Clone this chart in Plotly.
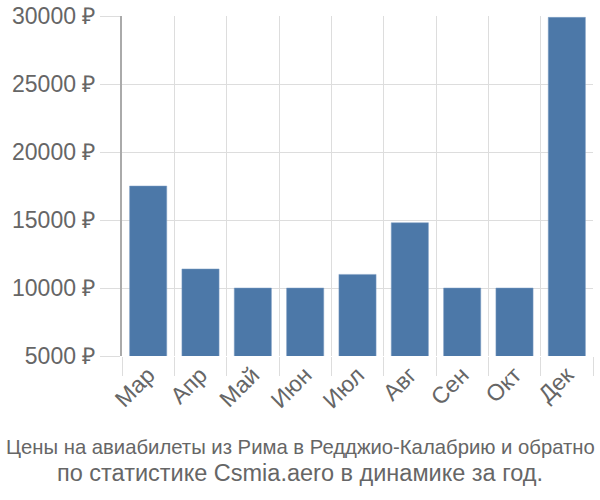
import plotly.graph_objects as go

months = ["Мар", "Апр", "Май", "Июн", "Июл", "Авг", "Сен", "Окт", "Дек"]
prices = [17500, 11400, 10000, 10000, 11000, 14800, 10000, 10000, 29900]
y_ticks = [5000, 10000, 15000, 20000, 25000, 30000]
title_line1 = "Цены на авиабилеты из Рима в Редджио-Калабрию и обратно"
title_line2 = "по статистике Csmia.aero в динамике за год."

fig = go.Figure(go.Bar(x=months, y=prices, marker=dict(color="#4c78a8", line=dict(color="#7f9fc4", width=0.5))))

fig.update_layout(
    width=600, height=500,
    margin=dict(l=122, r=7, t=16, b=144),
    paper_bgcolor="white", plot_bgcolor="white",
    bargap=0.29,
    showlegend=False,
    font=dict(family="Liberation Sans, Arial, sans-serif", color="#666666"),
)
fig.update_xaxes(
    type="category", tickson="boundaries", ticks="outside", ticklen=19,
    tickcolor="#dddddd", showgrid=True, gridcolor="#dddddd", gridwidth=1,
    tickangle=-45, tickfont=dict(size=23, color="#666666"),
    showline=False, automargin=False,
)
fig.update_yaxes(
    range=[5000, 30000], tickvals=y_ticks, ticktext=[f"{v} ₽" for v in y_ticks],
    ticks="outside", ticklen=20, tickcolor="#dddddd",
    showgrid=True, gridcolor="#dddddd", gridwidth=1, zeroline=False,
    showline=True, linecolor="#aaaaaa", linewidth=2,
    tickfont=dict(size=23, color="#666666"), automargin=False,
)
fig.add_annotation(text=title_line1, xref="paper", yref="paper", x=(300-122)/471, y=-(447-356)/340,
                   xanchor="center", yanchor="middle", showarrow=False,
                   font=dict(size=20.3, color="#666666"))
fig.add_annotation(text=title_line2, xref="paper", yref="paper", x=(300-122)/471, y=-(473-356)/340,
                   xanchor="center", yanchor="middle", showarrow=False,
                   font=dict(size=23.5, color="#666666"))

fig.write_html("out.html")
